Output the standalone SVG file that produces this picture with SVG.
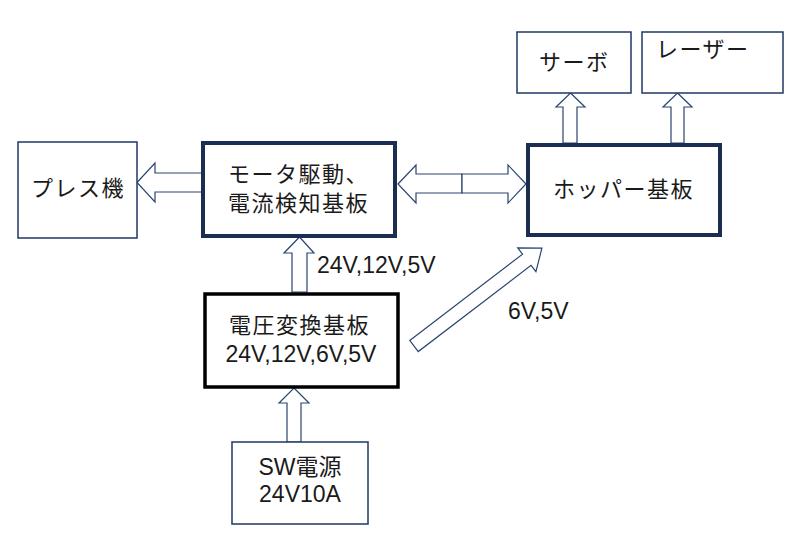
<svg xmlns="http://www.w3.org/2000/svg" width="790" height="539" viewBox="0 0 790 539">
<style>
.bg{fill:#fff}
.thin{fill:#fff;stroke:#1F3864;stroke-width:1.5}
.thick{fill:#fff;stroke:#1B2D50;stroke-width:4}
.black{fill:#fff;stroke:#000;stroke-width:3.5}
.arr{fill:#fff;stroke:#2A4570;stroke-width:1.2;stroke-linejoin:miter}
.jp{font-family:"Noto Sans CJK JP","Liberation Sans",sans-serif;font-size:22px;letter-spacing:1.5px;fill:#1a1a1a}
.lat{font-family:"Liberation Sans","Noto Sans CJK JP",sans-serif;font-size:23px;fill:#1a1a1a}
</style>
<rect class="bg" x="0" y="0" width="790" height="539"/>
<g id="connectors">
  <polygon class="arr" points="137,182.5 155,163 155,173 203,173 203,192 155,192 155,202"/>
  <polygon class="arr" points="398,184 416,165 416,174 462,174 462,193 416,193 416,203"/>
  <polygon class="arr" points="526,184 508,165 508,174 462,174 462,193 508,193 508,203"/>
  <polygon class="arr" points="570.5,93 585,107 577,107 577,143 563,143 563,107 556,107"/>
  <polygon class="arr" points="677.5,93 692,107 684,107 684,143 671,143 671,107 663,107"/>
  <polygon class="arr" points="299.5,237 314,253 307,253 307,292 292,292 292,253 284,253"/>
  <polygon class="arr" points="294,388 309,403 301,403 301,442 287,442 287,403 279,403"/>
  <g transform="translate(414,346) rotate(-37.4)">
    <polygon class="arr" points="0,-7 142,-7 142,-15 161,0 142,15 142,7 0,7"/>
  </g>
</g>
<g id="servo">
  <rect class="thin" x="517" y="32" width="114" height="61"/>
  <text class="jp" x="539" y="70">サーボ</text>
</g>
<g id="laser">
  <rect class="thin" x="642" y="32" width="141" height="61"/>
  <text class="jp" x="656" y="57">レーザー</text>
</g>
<g id="press">
  <rect class="thin" x="18" y="142" width="119" height="96"/>
  <text class="jp" x="31" y="196">プレス機</text>
</g>
<g id="motor">
  <rect class="thick" x="203" y="143" width="192" height="93"/>
  <text class="jp" x="228" y="182">モータ駆動、</text>
  <text class="jp" x="228" y="211">電流検知基板</text>
</g>
<g id="hopper">
  <rect class="thick" x="528" y="145" width="192" height="90"/>
  <text class="jp" x="553" y="197">ホッパー基板</text>
</g>
<g id="voltage">
  <rect class="black" x="205" y="294" width="193" height="93"/>
  <text class="jp" x="229" y="333">電圧変換基板</text>
  <text class="lat" x="301" y="362" text-anchor="middle">24V,12V,6V,5V</text>
</g>
<g id="sw">
  <rect class="thin" x="232" y="442" width="136" height="82"/>
  <text class="lat" x="300" y="475" text-anchor="middle">SW電源</text>
  <text class="lat" x="300" y="502" text-anchor="middle">24V10A</text>
</g>
<g id="labels">
  <text class="lat" x="317" y="273">24V,12V,5V</text>
  <text class="lat" x="508" y="319">6V,5V</text>
</g>
</svg>
